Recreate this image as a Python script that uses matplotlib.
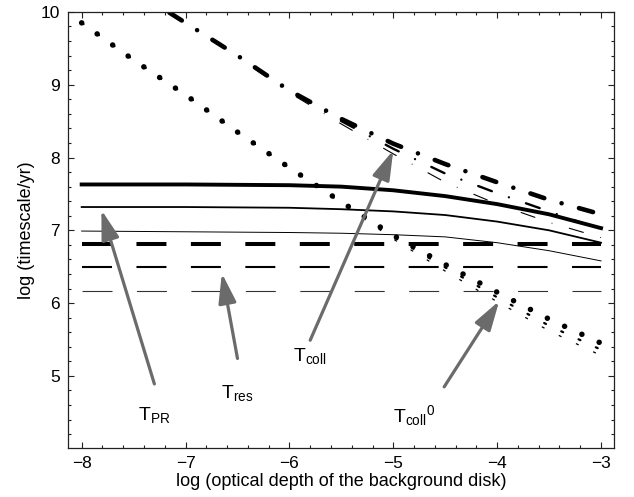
import matplotlib
matplotlib.use('Agg')
import matplotlib.pyplot as plt
from matplotlib.ticker import MultipleLocator

plt.rcParams['font.family'] = ['Liberation Sans', 'DejaVu Sans']
plt.rcParams['mathtext.fontset'] = 'custom'
plt.rcParams['mathtext.rm'] = 'Liberation Sans'
plt.rcParams['mathtext.it'] = 'Liberation Sans:italic'
plt.rcParams['lines.scale_dashes'] = False

# ---- data (log optical depth vs log timescale) ----
# T_PR : dashed, constant
tpr_x = [-8, -3]
tpr_thick = [6.81, 6.81]
tpr_med = [6.49, 6.49]
tpr_thin = [6.16, 6.16]

# T_res : solid
tres_x = [-8, -7, -6, -5.5, -5, -4.5, -4, -3.5, -3]
tres_thick = [7.63, 7.63, 7.62, 7.60, 7.55, 7.47, 7.36, 7.22, 7.03]
tres_med = [7.32, 7.32, 7.31, 7.29, 7.26, 7.21, 7.12, 7.00, 6.83]
tres_thin = [6.99, 6.98, 6.97, 6.96, 6.94, 6.91, 6.83, 6.72, 6.58]

# T_coll : dash-dot
tcoll_x = [-8, -7.5, -7, -6.5, -6, -5.5, -5, -4.5, -4, -3.5, -3]
tcoll_thick = [10.75, 10.30, 9.85, 9.40, 8.92, 8.53, 8.19, 7.91, 7.66, 7.42, 7.22]
tcoll_med = [10.75, 10.30, 9.85, 9.39, 8.91, 8.50, 8.12, 7.78, 7.51, 7.26, 7.01]
tcoll_thin = [10.75, 10.30, 9.85, 9.38, 8.89, 8.46, 8.05, 7.66, 7.36, 7.11, 6.90]

# T_coll^0 : dotted
tc0_x = [-8, -7.5, -7, -6.5, -6, -5.5, -5, -4.5, -4, -3.5, -3]
tc0_thick = [9.85, 9.34, 8.86, 8.35, 7.86, 7.39, 6.93, 6.53, 6.15, 5.78, 5.45]
tc0_med = [9.85, 9.34, 8.86, 8.35, 7.86, 7.38, 6.91, 6.49, 6.08, 5.69, 5.36]
tc0_thin = [9.85, 9.34, 8.86, 8.35, 7.86, 7.37, 6.88, 6.44, 6.02, 5.62, 5.28]

fig = plt.figure(figsize=(6.34, 4.97), dpi=100)
ax = fig.add_axes([0.108, 0.0986, 0.8605, 0.8774])

# dashed
dash = (0, (21.6, 17.6))
ax.plot(tpr_x, tpr_thick, color='black', lw=2.9, linestyle=dash, dash_capstyle='butt')
ax.plot(tpr_x, tpr_med, color='black', lw=1.5, linestyle=dash, dash_capstyle='butt')
ax.plot(tpr_x, tpr_thin, color='#333333', lw=0.8, linestyle=dash, dash_capstyle='butt')

# solid
ax.plot(tres_x, tres_thick, color='black', lw=2.8)
ax.plot(tres_x, tres_med, color='black', lw=1.3)
ax.plot(tres_x, tres_thin, color='black', lw=0.7)

# dash-dot
dd = (18, (10.5, 13.0, 0.01, 13.0))
ax.plot(tcoll_x, tcoll_thick, color='black', lw=3.3, linestyle=dd, dash_capstyle='round')
ax.plot(tcoll_x, tcoll_med, color='black', lw=1.7, linestyle=dd, dash_capstyle='round')
ax.plot(tcoll_x, tcoll_thin, color='black', lw=0.8, linestyle=dd, dash_capstyle='round')

# dotted
ax.plot(tc0_x, tc0_thick, color='black', lw=4.0, linestyle=(0, (0.01, 13.7)), dash_capstyle='round')
ax.plot(tc0_x, tc0_med, color='black', lw=1.6, linestyle=(0, (1.5, 12.2)), dash_capstyle='round')
ax.plot(tc0_x, tc0_thin, color='black', lw=0.9, linestyle=(0, (2.2, 11.5)), dash_capstyle='butt')

# arrows and labels
gray = '#6b6b6b'
def arrow(tail, tip):
    ax.annotate('', xy=tip, xytext=tail,
                arrowprops=dict(arrowstyle='-|>,head_length=18,head_width=5.4',
                                mutation_scale=1, color=gray, lw=2.3,
                                shrinkA=0, shrinkB=0))

arrow((-7.30, 4.89), (-7.81, 7.28))
arrow((-6.50, 5.24), (-6.65, 6.41))
arrow((-5.80, 5.49), (-5.00, 8.10))
arrow((-4.51, 4.85), (-3.98, 6.03))

fs = 14
ax.text(-7.30, 4.47, r'T$_{\mathrm{PR}}$', fontsize=fs, ha='center', va='center')
ax.text(-6.50, 4.77, r'T$_{\mathrm{res}}$', fontsize=fs, ha='center', va='center')
ax.text(-5.80, 5.28, r'T$_{\mathrm{coll}}$', fontsize=fs, ha='center', va='center')
ax.text(-4.80, 4.45, r'T$_{\mathrm{coll}}{}^{0}$', fontsize=fs, ha='center', va='center')

ax.set_xlim(-8.127, -2.875)
ax.set_ylim(4.01, 10.0)
ax.xaxis.set_major_locator(MultipleLocator(1))
ax.xaxis.set_minor_locator(MultipleLocator(0.2))
ax.yaxis.set_major_locator(MultipleLocator(1))
ax.yaxis.set_minor_locator(MultipleLocator(0.2))
ax.tick_params(which='both', direction='in', top=True, right=True, labelsize=12.5,
               color='#222222', width=0.8)
ax.tick_params(which='major', length=4, pad=6)
ax.tick_params(which='minor', length=2.5)
for s in ax.spines.values():
    s.set_linewidth(0.9)
    s.set_color('#222222')

ax.set_xlabel('log (optical depth of the background disk)', fontsize=13, labelpad=1)
ax.set_ylabel('log (timescale/yr)', fontsize=13, labelpad=4)

fig.savefig('out.png', dpi=100)
